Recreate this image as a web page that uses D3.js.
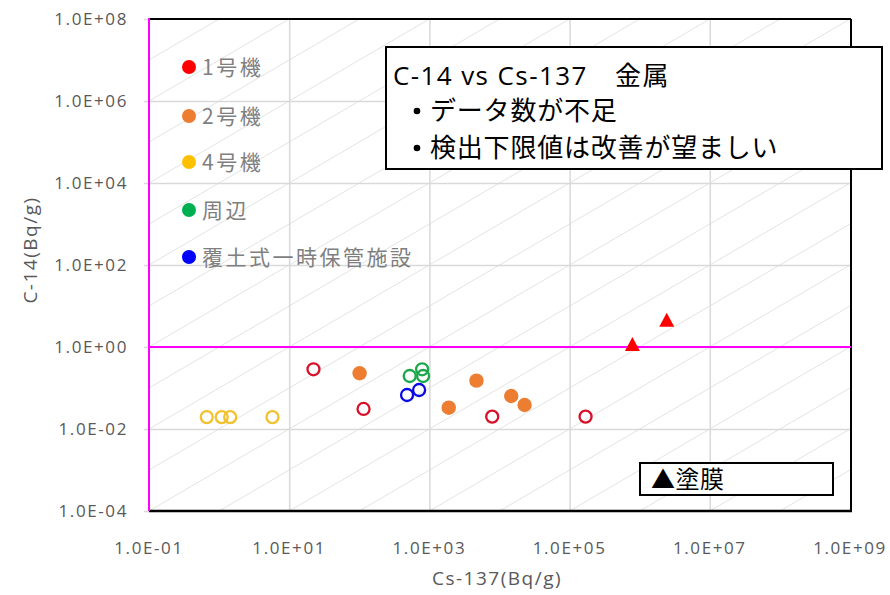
<!DOCTYPE html>
<html><head><meta charset="utf-8">
<script src="https://cdn.jsdelivr.net/npm/d3@7"></script>
<style>body{margin:0;background:#fff} svg{display:block}</style>
</head><body>
<svg id="c" width="890" height="595"></svg>
<script>
// ---- data ----
const xTicks = [1e-1, 1e1, 1e3, 1e5, 1e7, 1e9];
const xTickLabels = ["1.0E-01","1.0E+01","1.0E+03","1.0E+05","1.0E+07","1.0E+09"];
const yTicks = [1e-4, 1e-2, 1e0, 1e2, 1e4, 1e6, 1e8];
const yTickLabels = ["1.0E-04","1.0E-02","1.0E+00","1.0E+02","1.0E+04","1.0E+06","1.0E+08"];
const seriesNames = ["1号機","2号機","4号機","周辺","覆土式一時保管施設"];
const seriesColors = ["#FF0000","#ED7D31","#FFC000","#00B050","#0000FF"];
const unit1Cs   = [22.2, 115, 7870, 169000];
const unit1C14  = [0.286, 0.0308, 0.0200, 0.0200];
const unit1FilmCs  = [787000, 2430000];
const unit1FilmC14 = [1.19, 4.63];
const unit2Cs   = [101, 1888, 4691, 14700, 22800];
const unit2C14  = [0.229, 0.0331, 0.151, 0.0638, 0.0385];
const unit4Cs   = [0.667, 1.09, 1.44, 5.77];
const unit4C14  = [0.0195, 0.0195, 0.0195, 0.0195];
const siteCs    = [524, 787, 813];
const siteC14   = [0.196, 0.286, 0.196];
const storeCs   = [480, 713];
const storeC14  = [0.0675, 0.0893];
const ratioExponents = d3.range(-13, 10);   // C-14 = Cs-137 × 10^k reference lines
const thresholdC14 = 1;
const xTitle = "Cs-137(Bq/g)";
const yTitle = "C-14(Bq/g)";
const noteTitle = "C-14 vs Cs-137\u3000金属";
const noteLines = ["データ数が不足", "検出下限値は改善が望ましい"];
const filmLabel = "▲塗膜";

// ---- layout ----
const svg = d3.select("#c");
const L = 149, R = 851, T = 19, B = 511;
const x = d3.scaleLog().domain([1e-1, 1e9]).range([L, 850]);
const y = d3.scaleLog().domain([1e-4, 1e8]).range([B, T]);

svg.append("defs").append("clipPath").attr("id","clip")
  .append("rect").attr("x", L).attr("y", T).attr("width", R - L).attr("height", B - T);

// diagonal reference lines
const diag = svg.append("g").attr("clip-path","url(#clip)");
ratioExponents.forEach(k => {
  const x0 = 1e-1, x1 = 1e9;
  diag.append("line")
    .attr("x1", x(x0)).attr("y1", y(x0 * Math.pow(10, k)))
    .attr("x2", x(x1)).attr("y2", y(x1 * Math.pow(10, k)))
    .attr("stroke", "#e3e3e3").attr("stroke-width", 1);
});

// gridlines
svg.append("g").attr("transform", `translate(0,${B})`)
  .call(d3.axisBottom(x).tickValues(xTicks.slice(1, -1)).tickSize(-(B - T)).tickFormat(""))
  .call(g => g.select(".domain").remove())
  .call(g => g.selectAll("line").attr("stroke", "#d9d9d9").attr("stroke-width", 1.5));
svg.append("g").attr("transform", `translate(${L},0)`)
  .call(d3.axisLeft(y).tickValues(yTicks.slice(1, -1)).tickSize(-(R - L)).tickFormat(""))
  .call(g => g.select(".domain").remove())
  .call(g => g.selectAll("line").attr("stroke", "#d9d9d9").attr("stroke-width", 1.5));

// small outside ticks on y axis
svg.append("g").attr("transform", `translate(${L},0)`)
  .call(d3.axisLeft(y).tickValues(yTicks).tickSize(5).tickFormat(""))
  .call(g => g.select(".domain").remove())
  .call(g => g.selectAll("line").attr("stroke", "#d9d9d9").attr("stroke-width", 1.5));

// frame
svg.append("line").attr("x1", L).attr("x2", R).attr("y1", T).attr("y2", T).attr("stroke","#000").attr("stroke-width",2);
svg.append("line").attr("x1", R).attr("x2", R).attr("y1", T).attr("y2", B).attr("stroke","#000").attr("stroke-width",2);
svg.append("line").attr("x1", L).attr("x2", R + 1).attr("y1", B).attr("y2", B).attr("stroke","#000").attr("stroke-width",2.5);
svg.append("line").attr("x1", L).attr("x2", L).attr("y1", T - 1).attr("y2", B).attr("stroke","#FF00FF").attr("stroke-width",2);
svg.append("line").attr("x1", L).attr("x2", R).attr("y1", y(thresholdC14)).attr("y2", y(thresholdC14)).attr("stroke","#FF00FF").attr("stroke-width",2);

// tick labels
const tickFont = "'Open Sans', sans-serif";
svg.append("g").selectAll("text").data(yTicks).join("text")
  .attr("x", 128).attr("y", d => y(d)).attr("dy", "0.35em")
  .attr("text-anchor", "end").attr("font-family", tickFont).attr("font-size", 17)
  .attr("letter-spacing", 1.6).attr("fill", "#595959")
  .text((d, i) => yTickLabels[i]);
svg.append("g").selectAll("text").data(xTicks).join("text")
  .attr("x", d => x(d)).attr("y", 548).attr("dy", "0.35em")
  .attr("text-anchor", "middle").attr("font-family", tickFont).attr("font-size", 17)
  .attr("letter-spacing", 1.6).attr("fill", "#595959")
  .text((d, i) => xTickLabels[i]);

// axis titles
svg.append("text").attr("x", 497).attr("y", 578).attr("dy","0.35em")
  .attr("text-anchor","middle").attr("font-family", tickFont).attr("font-size", 19)
  .attr("letter-spacing", 1.5).attr("fill", "#595959").text(xTitle);
svg.append("text").attr("transform", "translate(30,250) rotate(-90)").attr("dy","0.35em")
  .attr("text-anchor","middle").attr("font-family", tickFont).attr("font-size", 19)
  .attr("letter-spacing", 1.5).attr("fill", "#595959").text(yTitle);

// data marks
const marks = svg.append("g");
function openCircles(xs, ys, color) {
  marks.append("g").selectAll("circle").data(xs).join("circle")
    .attr("cx", d => x(d)).attr("cy", (d, i) => y(ys[i])).attr("r", 6)
    .attr("fill", "none").attr("stroke", color).attr("stroke-width", 2.3);
}
function filledCircles(xs, ys, color) {
  marks.append("g").selectAll("circle").data(xs).join("circle")
    .attr("cx", d => x(d)).attr("cy", (d, i) => y(ys[i])).attr("r", 7.2)
    .attr("fill", color);
}
openCircles(unit4Cs, unit4C14, "#F2C12E");
openCircles(unit1Cs, unit1C14, "#D8102A");
filledCircles(unit2Cs, unit2C14, "#ED7D31");
openCircles(siteCs, siteC14, "#1AA84B");
openCircles(storeCs, storeC14, "#0A0AE6");
const triSym = { draw(ctx, size) { const w = 15, h = 14;
  ctx.moveTo(0, -h/2); ctx.lineTo(w/2, h/2); ctx.lineTo(-w/2, h/2); ctx.closePath(); } };
marks.append("g").selectAll("path").data(unit1FilmCs).join("path")
  .attr("transform", (d, i) => `translate(${x(d)},${y(unit1FilmC14[i])})`)
  .attr("d", d3.symbol().type(triSym)).attr("fill", "#FF0000");

// legend
const legY = [67, 116, 162, 210, 257];
const leg = svg.append("g");
seriesNames.forEach((n, i) => {
  leg.append("circle").attr("cx", 189).attr("cy", legY[i]).attr("r", 7).attr("fill", seriesColors[i]);
  leg.append("text").attr("x", 202).attr("y", legY[i]).attr("dy", "0.36em")
    .attr("font-family", "'Noto Sans CJK JP', sans-serif").attr("font-size", 21)
    .attr("letter-spacing", 2.5).attr("fill", "#7f7f7f").text(n);
});

// note box
svg.append("rect").attr("x", 386).attr("y", 47).attr("width", 496).attr("height", 122)
  .attr("fill", "#fff").attr("stroke", "#000").attr("stroke-width", 2);
svg.append("text").attr("x", 393).attr("y", 85)
  .attr("font-family", "'Open Sans', 'Noto Sans CJK JP', sans-serif").attr("font-size", 26)
  .attr("letter-spacing", 1.4).attr("fill", "#000").text(noteTitle);
const noteBase = [120, 157];
noteLines.forEach((t, i) => {
  svg.append("circle").attr("cx", 417).attr("cy", noteBase[i] - 9).attr("r", 3.3).attr("fill", "#000");
  svg.append("text").attr("x", 430).attr("y", noteBase[i])
    .attr("font-family", "'Noto Sans CJK JP', sans-serif").attr("font-size", 26)
    .attr("letter-spacing", 0.8).attr("fill", "#000").text(t);
});

// film box
svg.append("rect").attr("x", 640).attr("y", 463).attr("width", 193).attr("height", 32)
  .attr("fill", "#fff").attr("stroke", "#000").attr("stroke-width", 2);
svg.append("text").attr("x", 651).attr("y", 488)
  .attr("font-family", "'Noto Sans CJK JP', sans-serif").attr("font-size", 24)
  .attr("letter-spacing", 0.5).attr("fill", "#000").text(filmLabel);
</script>
</body></html>
